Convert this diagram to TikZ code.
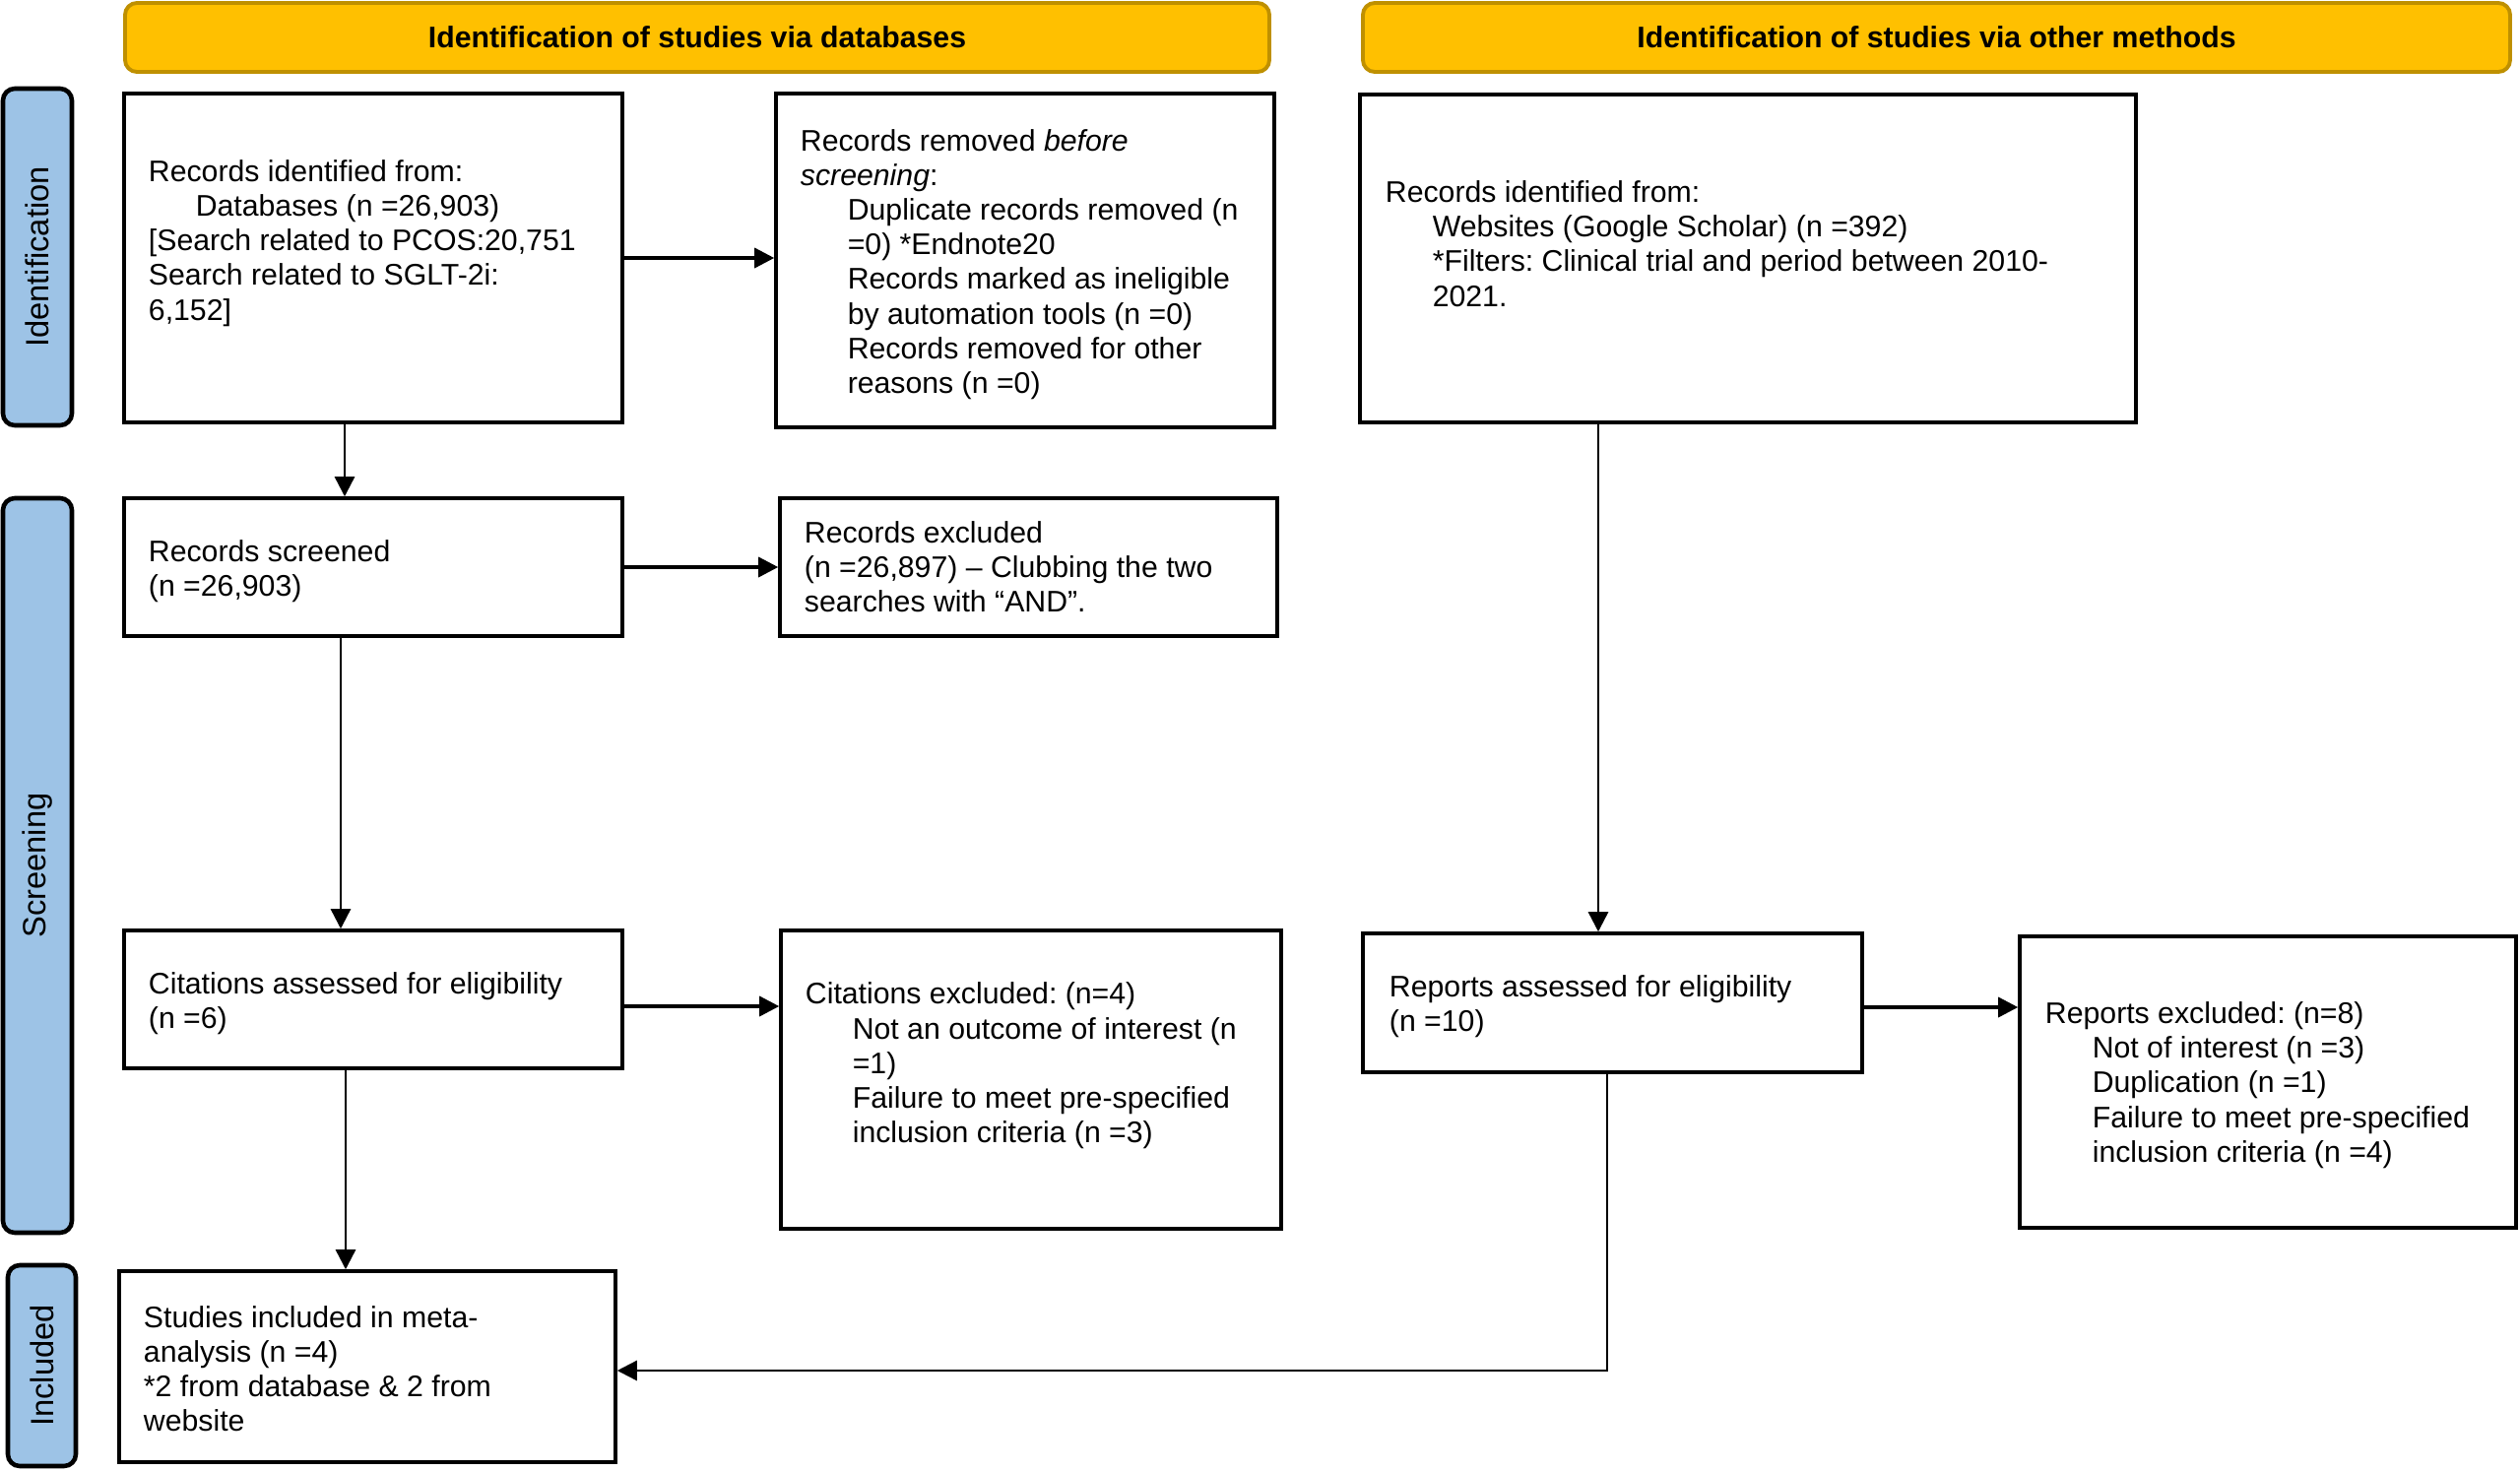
\documentclass[tikz,border=0pt]{standalone}
\usepackage{fontspec}
\setmainfont{Liberation Sans}
\usetikzlibrary{fit,arrows.meta,calc}
\definecolor{hdrfill}{RGB}{255,192,0}
\definecolor{hdrdraw}{RGB}{191,144,0}
\definecolor{sidefill}{RGB}{157,195,230}
\newcommand\ind{\hspace*{13.6pt}}
\frenchspacing
\begin{document}
\begin{tikzpicture}[x=0.01cm,y=-0.01cm,
 box/.style={draw=black,line width=1pt,fill=white,inner sep=0pt},
 hdr/.style={draw=hdrdraw,fill=hdrfill,line width=1.1pt,rounded corners=0.12cm,inner sep=0pt},
 side/.style={draw=black,fill=sidefill,line width=1.3pt,rounded corners=0.12cm,inner sep=0pt},
 txt/.style={anchor=west,inner sep=0pt,align=left,font=\fontsize{8.6}{10}\selectfont},
 hdrtxt/.style={inner sep=0pt,font=\fontsize{8.6}{10}\selectfont\bfseries},
 sidetxt/.style={inner sep=0pt,rotate=90,font=\fontsize{9.3}{11}\selectfont},
 arr/.style={draw=black,line width=0.7pt,-{Triangle[length=5.7pt,width=5.7pt]}},
 harr/.style={arr,line width=0.95pt}]
\useasboundingbox (0,0) rectangle (2559,1493);

% headers
\node[hdr,fit={(127,3)(1289,73)}] (H1) {};
\node[hdrtxt] (H1t) at (H1.center) {Identification of studies via databases};
\node[hdr,fit={(1384,3)(2549,73)}] (H2) {};
\node[hdrtxt] (H2t) at (H2.center) {Identification of studies via other methods};

% side labels
\node[side,fit={(3,90)(73,432)}] (S1) {};
\node[sidetxt] (S1t) at (S1.center) {Identification};
\node[side,fit={(3,506)(73,1252)}] (S2) {};
\node[sidetxt] (S2t) at (S2.center) {Screening};
\node[side,fit={(8,1285)(77,1489)}] (S3) {};
\node[sidetxt] (S3t) at (S3.center) {Included};

% boxes
\node[box,fit={(126,95)(632,429)}] (A) {};
\node[box,fit={(788,95)(1294,434)}] (B) {};
\node[box,fit={(1381,96)(2169,429)}] (C) {};
\node[box,fit={(126,506)(632,646)}] (D) {};
\node[box,fit={(792,506)(1297,646)}] (E) {};
\node[box,fit={(126,945)(632,1085)}] (F) {};
\node[box,fit={(793,945)(1301,1248)}] (G) {};
\node[box,fit={(1384,948)(1891,1089)}] (H) {};
\node[box,fit={(2051,951)(2555,1247)}] (I) {};
\node[box,fit={(121,1291)(625,1485)}] (J) {};

% texts
\node[txt] (At) at ([xshift=0.26cm,yshift=0.15cm]A.west) {Records identified from:\\
\ind Databases (n =26,903)\\
{[}Search related to PCOS:20,751\\
Search related to SGLT-2i:\\
6,152{]}};
\node[txt] (Bt) at ([xshift=0.26cm,yshift=-0.04cm]B.west) {Records removed \textit{before}\\
\textit{screening}:\\
\ind Duplicate records removed (n\\
\ind =0) *Endnote20\\
\ind Records marked as ineligible\\
\ind by automation tools (n =0)\\
\ind Records removed for other\\
\ind reasons (n =0)};
\node[txt] (Ct) at ([xshift=0.27cm,yshift=0.15cm]C.west) {Records identified from:\\
\ind Websites (Google Scholar) (n =392)\\
\ind *Filters: Clinical trial and period between 2010-\\
\ind 2021.};
\node[txt] (Dt) at ([xshift=0.26cm,yshift=-0.04cm]D.west) {Records screened\\
(n =26,903)};
\node[txt] (Et) at ([xshift=0.26cm]E.west) {Records excluded\\
(n =26,897) – Clubbing the two\\
searches with “AND”.};
\node[txt] (Ft) at ([xshift=0.26cm,yshift=-0.04cm]F.west) {Citations assessed for eligibility\\
(n =6)};
\node[txt] (Gt) at ([xshift=0.26cm,yshift=0.14cm]G.west) {Citations excluded: (n=4)\\
\ind Not an outcome of interest (n\\
\ind =1)\\
\ind Failure to meet pre-specified\\
\ind inclusion criteria (n =3)};
\node[txt] (Ht) at ([xshift=0.28cm,yshift=-0.04cm]H.west) {Reports assessed for eligibility\\
(n =10)};
\node[txt] (It) at ([xshift=0.27cm,yshift=-0.03cm]I.west) {Reports excluded: (n=8)\\
\ind Not of interest (n =3)\\
\ind Duplication (n =1)\\
\ind Failure to meet pre-specified\\
\ind inclusion criteria (n =4)};
\node[txt] (Jt) at ([xshift=0.26cm,yshift=-0.02cm]J.west) {Studies included in meta-\\
analysis (n =4)\\
*2 from database \& 2 from\\
website};

% connector columns / rows
\coordinate (cA) at (350,0);
\coordinate (cD) at (346,0);
\coordinate (cF) at (351,0);
\coordinate (cC) at (1623,0);
\coordinate (cH) at (1632,0);
\coordinate (rF) at (0,1022);
\coordinate (rH) at (0,1023);
\coordinate (rJ) at (0,1392);

% connectors
\draw[harr] (A.east) -- (A.east -| B.west);
\draw[arr] (cA |- A.south) -- (cA |- D.north);
\draw[harr] (D.east) -- (D.east -| E.west);
\draw[arr] (cD |- D.south) -- (cD |- F.north);
\draw[harr] (rF -| F.east) -- (rF -| G.west);
\draw[arr] (cF |- F.south) -- (cF |- J.north);
\draw[arr] (cC |- C.south) -- (cC |- H.north);
\draw[harr] (rH -| H.east) -- (rH -| I.west);
\draw[arr] (cH |- H.south) -- (cH |- rJ) -- (rJ -| J.east);
\end{tikzpicture}
\end{document}
